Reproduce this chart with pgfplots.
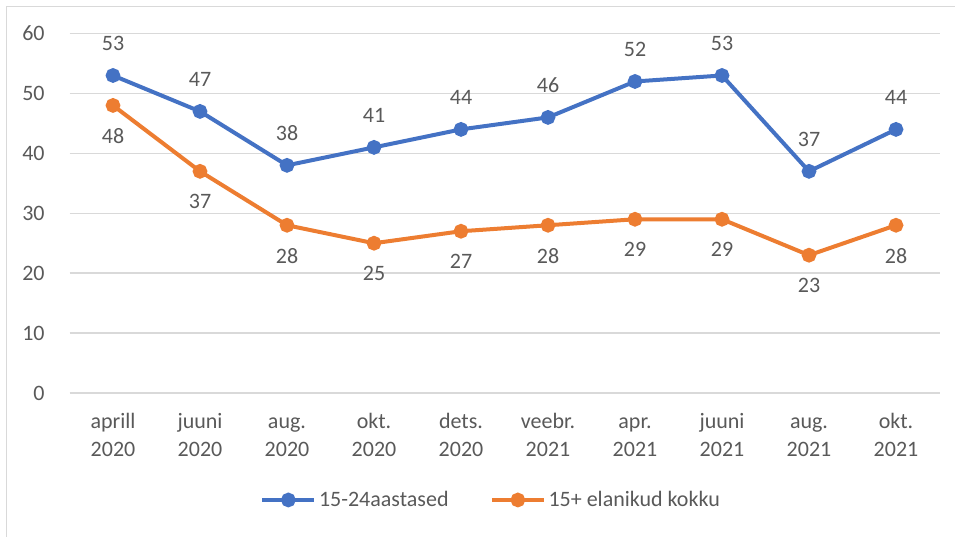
\documentclass[border=0pt]{standalone}
\usepackage{pgfplots}
\pgfplotsset{compat=1.18}
\usepackage{fontspec}
\setmainfont{Carlito}
\definecolor{cblue}{HTML}{4472C4}
\definecolor{corange}{HTML}{ED7D31}
\definecolor{ctext}{HTML}{595959}
\definecolor{cgrid}{HTML}{D9D9D9}
\newcommand{\lblfont}{\fontsize{16.5}{21}\selectfont}
\begin{document}
\begin{tikzpicture}
\useasboundingbox (0,0) rectangle (716.25pt,402pt);
\draw[cgrid, line width=1.1pt] (5pt,-5pt) -- (5pt,397pt) -- (725pt,397pt);
\begin{axis}[
  at={(52.125pt,107.25pt)}, anchor=south west,
  scale only axis, width=652.5pt, height=269.6pt,
  xmin=-0.5, xmax=9.5, ymin=0, ymax=60,
  ytick={0,10,...,60}, xtick={0,...,9},
  xticklabels={{\strut aprill\\2020},{\strut juuni\\2020},{\strut aug.\\2020},{\strut okt.\\2020},{\strut dets.\\2020},{\strut veebr.\\2021},{\strut apr.\\2021},{\strut juuni\\2021},{\strut aug.\\2021},{\strut okt.\\2021}},
  /pgf/number format/assume math mode=true,
  ymajorgrids, grid style={cgrid, line width=1.1pt},
  axis line style={draw=none}, major tick length=0pt, tick style={draw=none},
  yticklabel style={anchor=east, inner sep=0pt, xshift=-18.5pt, font=\lblfont, text=ctext},
  xticklabel style={anchor=north, inner sep=0pt, yshift=-11.5pt, align=center, font=\lblfont, text=ctext},
  legend style={at={(0.485,-0.2976)}, anchor=center, draw=none, fill=none, legend columns=2,
    font=\lblfont, text=ctext, /tikz/every even column/.append style={column sep=29pt}},
  legend image code/.code={\draw[#1, mark repeat=2, mark phase=2] plot coordinates {(0pt,0pt)(19.5pt,0pt)(39pt,0pt)};},
  clip=false,
]
\addplot[cblue, line width=3pt, mark=*, mark size=4pt, mark options={solid},
  nodes near coords, nodes near coords style={anchor=south, inner sep=0pt, yshift=17pt, font=\lblfont, text=ctext}]
  coordinates {(0,53)(1,47)(2,38)(3,41)(4,44)(5,46)(6,52)(7,53)(8,37)(9,44)};
\addlegendentry{15-24aastased}
\addplot[corange, line width=3pt, mark=*, mark size=4pt, mark options={solid},
  nodes near coords, nodes near coords style={anchor=north, inner sep=0pt, yshift=-16pt, font=\lblfont, text=ctext}]
  coordinates {(0,48)(1,37)(2,28)(3,25)(4,27)(5,28)(6,29)(7,29)(8,23)(9,28)};
\addlegendentry{15+ elanikud kokku}
\end{axis}
\end{tikzpicture}
\end{document}
